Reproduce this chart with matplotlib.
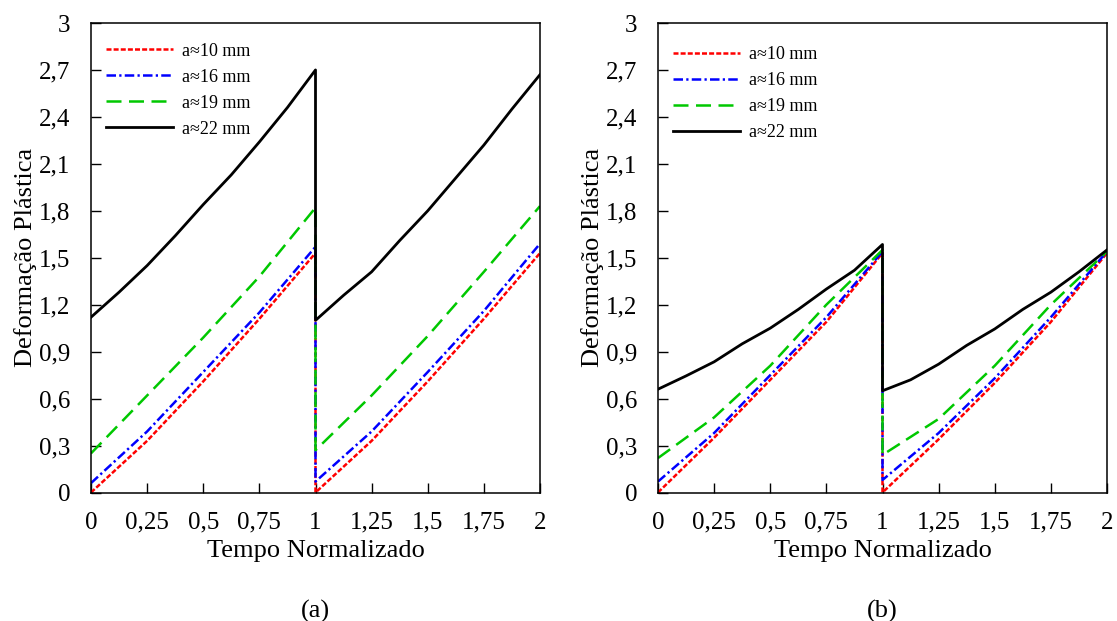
import matplotlib.pyplot as plt

plt.rcParams['font.family'] = ['Liberation Serif', 'DejaVu Serif']

# Normalised time; the second cycle restarts at t = 1
t_col_1 = [0, 0.25, 0.5, 0.75, 1.0]
t_col_2 = [1.0, 1.25, 1.5, 1.75, 2.0]
t_blk_1 = [0, 0.125, 0.25, 0.375, 0.5, 0.625, 0.75, 0.875, 1.0]
t_blk_2 = [1.0, 1.125, 1.25, 1.375, 1.5, 1.625, 1.75, 1.875, 2.0]

labels = ["a\u224810 mm", "a\u224816 mm", "a\u224819 mm", "a\u224822 mm"]
colors = ["#FF0000", "#0000FF", "#00C800", "#000000"]

# Panel (a): plastic strain, cycle 1 and cycle 2
a_red_1 = [0.00, 0.33, 0.71, 1.11, 1.53]
a_red_2 = [0.00, 0.33, 0.71, 1.11, 1.53]
a_blue_1 = [0.06, 0.39, 0.77, 1.15, 1.57]
a_blue_2 = [0.07, 0.39, 0.77, 1.16, 1.59]
a_green_1 = [0.25, 0.62, 0.99, 1.38, 1.82]
a_green_2 = [0.27, 0.62, 1.00, 1.41, 1.83]
a_black_1 = [1.12, 1.28, 1.45, 1.64, 1.84, 2.03, 2.24, 2.46, 2.70]
a_black_2 = [1.10, 1.26, 1.41, 1.61, 1.80, 2.01, 2.22, 2.45, 2.67]

# Panel (b)
b_red_1 = [0.00, 0.35, 0.72, 1.09, 1.53]
b_red_2 = [0.00, 0.34, 0.70, 1.09, 1.53]
b_blue_1 = [0.07, 0.38, 0.75, 1.12, 1.54]
b_blue_2 = [0.08, 0.38, 0.73, 1.12, 1.54]
b_green_1 = [0.22, 0.48, 0.81, 1.20, 1.55]
b_green_2 = [0.24, 0.47, 0.81, 1.20, 1.54]
b_black_1 = [0.66, 0.745, 0.835, 0.95, 1.05, 1.17, 1.30, 1.42, 1.585]
b_black_2 = [0.65, 0.72, 0.82, 0.94, 1.045, 1.17, 1.28, 1.41, 1.55]

panel_a = [(a_red_1, a_red_2), (a_blue_1, a_blue_2), (a_green_1, a_green_2), (a_black_1, a_black_2)]
panel_b = [(b_red_1, b_red_2), (b_blue_1, b_blue_2), (b_green_1, b_green_2), (b_black_1, b_black_2)]

y_ticks = [0, 0.3, 0.6, 0.9, 1.2, 1.5, 1.8, 2.1, 2.4, 2.7, 3]
y_ticklabels = ["0", "0,3", "0,6", "0,9", "1,2", "1,5", "1,8", "2,1", "2,4", "2,7", "3"]
x_ticks = [0, 0.25, 0.5, 0.75, 1, 1.25, 1.5, 1.75, 2]
x_ticklabels = ["0", "0,25", "0,5", "0,75", "1", "1,25", "1,5", "1,75", "2"]

styles = [
    dict(dashes=(2.0, 0.85), lw=1.8),
    dict(dashes=(3.8, 1.3, 0.9, 1.3), lw=1.8),
    dict(dashes=(6.0, 3.0), lw=1.8),
    dict(linestyle='-', lw=2.0),
]

fig = plt.figure(figsize=(11.17, 6.21), dpi=100)
ax_a = fig.add_axes([91 / 1117, 128.5 / 621, 449 / 1117, 469.5 / 621])
ax_b = fig.add_axes([658 / 1117, 128.5 / 621, 449 / 1117, 469.5 / 621])

for ax, data, tag, leg_y in [(ax_a, panel_a, "(a)", 0.991), (ax_b, panel_b, "(b)", 0.984)]:
    for (y1, y2), lab, col, st in zip(data, labels, colors, styles):
        if col == "#000000":
            t_all = t_blk_1 + t_blk_2
        else:
            t_all = t_col_1 + t_col_2
        # both cycles in one line, so the drop at t = 1 is drawn vertical
        ax.plot(t_all, y1 + y2, color=col, label=lab, **st)

    ax.set_xlim(0, 2)
    ax.set_ylim(0, 3)
    ax.set_xticks(x_ticks)
    ax.set_xticklabels(x_ticklabels, fontsize=18)
    ax.set_yticks(y_ticks)
    ax.set_yticklabels(y_ticklabels, fontsize=18)
    ax.tick_params(axis='x', direction='in', length=7, width=1, pad=14)
    ax.tick_params(axis='y', direction='in', length=7, width=1, pad=15)
    for sp in ax.spines.values():
        sp.set_linewidth(1.1)
    ax.set_xlabel("Tempo Normalizado", fontsize=19, labelpad=4)
    ax.set_ylabel("Deformação Plástica", fontsize=19, labelpad=1)
    ax.text(0.5, -0.228, tag, transform=ax.transAxes, ha='center', va='top', fontsize=19)
    ax.legend(loc='upper left', bbox_to_anchor=(0.0, leg_y), frameon=False, fontsize=13,
              handlelength=3.7, handletextpad=0.5, labelspacing=0.5, borderaxespad=0.45)

fig.savefig('out.png', dpi=100)
